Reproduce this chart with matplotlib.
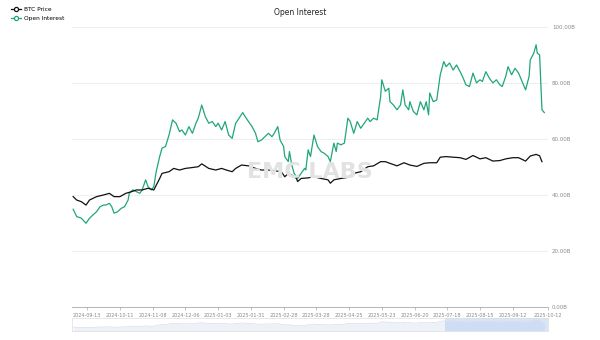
import matplotlib
matplotlib.use("Agg")
import matplotlib.pyplot as plt
import matplotlib.dates as mdates
import numpy as np
import pandas as pd
from matplotlib.lines import Line2D

start_date = "2024-08-31"

oi_days = [1, 4, 8, 12, 15, 18, 21, 24, 27, 29, 32, 34, 36, 39, 42, 45, 48, 49, 52, 55,
           58, 60, 63, 65, 68, 70, 72, 75, 77, 80, 83, 86, 89, 92, 94, 97, 100, 103, 106, 108,
           111, 114, 117, 120, 123, 125, 128, 131, 134, 137, 140, 142, 146, 149, 152, 154, 157, 159, 162, 165,
           168, 171, 173, 176, 178, 181, 182, 185, 186, 188, 190, 193, 196, 199, 200, 202, 204, 207, 210, 213,
           216, 219, 221, 224, 226, 227, 230, 233, 236, 238, 241, 244, 247, 250, 253, 255, 258, 261, 264, 265,
           268, 271, 272, 275, 278, 281, 283, 285, 288, 289, 292, 295, 298, 301, 303, 305, 306, 309, 312, 315,
           318, 320, 323, 326, 329, 332, 334, 337, 340, 343, 346, 349, 351, 354, 357, 360, 363, 366, 368, 371,
           373, 376, 379, 382, 385, 388, 391, 392, 395, 397, 398, 400, 402, 404]
oi_values = [34.9, 32.3, 31.7, 29.9, 31.7, 32.9, 34.0, 35.8, 36.4, 36.4, 37.0, 35.8, 33.5, 34.0, 35.2, 35.8, 38.2, 40.6, 41.8, 41.2,
             40.6, 41.8, 45.4, 43.0, 41.8, 43.0, 48.3, 53.7, 56.7, 57.3, 61.4, 66.8, 65.6, 62.6, 63.2, 61.4, 64.4, 62.0, 65.6, 67.4,
             72.1, 68.0, 65.6, 66.2, 64.4, 65.6, 63.2, 66.2, 61.4, 60.2, 65.6, 66.8, 69.4, 67.4, 65.6, 64.4, 62.0, 59.0, 59.6, 60.8,
             62.0, 60.8, 62.0, 64.4, 59.6, 57.3, 53.7, 51.9, 55.5, 50.7, 47.7, 45.9, 47.7, 49.5, 48.9, 56.1, 53.7, 61.4, 57.3, 55.5,
             54.8, 53.7, 51.9, 58.5, 55.5, 58.5, 57.9, 58.5, 67.4, 66.2, 62.0, 66.2, 63.8, 65.6, 67.4, 66.2, 67.4, 66.8, 75.1, 81.1,
             77.0, 78.1, 73.3, 72.1, 70.4, 72.1, 77.5, 72.1, 70.4, 73.3, 69.8, 68.6, 73.3, 70.4, 73.3, 68.6, 76.4, 73.3, 73.9, 82.9,
             87.6, 85.8, 87.1, 84.6, 86.4, 84.0, 82.3, 79.3, 78.7, 83.5, 80.0, 81.1, 80.5, 84.0, 81.7, 80.0, 81.1, 79.3, 78.7, 82.3,
             85.8, 82.9, 85.2, 83.5, 80.5, 77.5, 82.3, 88.2, 90.6, 93.6, 90.6, 90.0, 70.4, 69.4]

btc_days = [1, 4, 8, 12, 15, 21, 27, 32, 36, 41, 46, 51, 55, 60, 65, 70, 75, 77, 83, 87,
            92, 97, 103, 108, 111, 117, 123, 128, 132, 137, 140, 145, 151, 157, 162, 168, 173, 179, 182, 185,
            188, 192, 193, 196, 202, 207, 213, 219, 221, 224, 230, 236, 241, 247, 253, 258, 264, 268, 272, 278,
            284, 289, 295, 301, 306, 312, 315, 320, 326, 332, 337, 343, 349, 354, 360, 366, 371, 377, 382, 388,
            392, 397, 400, 402]
btc_price_k = [65.4, 60.8, 58.5, 53.9, 60.8, 65.4, 67.7, 69.9, 65.4, 65.4, 69.9, 72.2, 74.5, 74.5, 76.8, 74.5, 90.2, 97.1, 99.4, 103.9,
               101.7, 103.9, 105.1, 106.2, 110.1, 103.9, 101.7, 103.9, 101.7, 99.4, 103.9, 108.5, 107.4, 103.9, 101.7, 101.7, 100.9, 99.4, 92.5, 97.1,
               94.8, 90.2, 86.0, 90.2, 91.0, 92.5, 90.2, 88.3, 83.7, 88.3, 90.2, 91.7, 97.1, 99.4, 106.2, 107.4, 113.1, 113.1, 110.8, 107.4,
               111.6, 108.5, 106.6, 110.8, 111.6, 111.6, 119.2, 120.0, 119.2, 118.5, 116.2, 121.5, 116.9, 118.5, 113.9, 114.6, 116.9, 118.5, 118.5, 113.9,
               120.8, 123.0, 121.1, 113.1]

y_ticks = [0, 20, 40, 60, 80, 100]
y_tick_labels = ["0.00B", "20.00B", "40.00B", "60.00B", "80.00B", "100.00B"]
x_tick_dates = ["2024-09-13", "2024-10-11", "2024-11-08", "2024-12-06", "2025-01-03", "2025-01-31",
                "2025-02-28", "2025-03-28", "2025-04-25", "2025-05-23", "2025-06-20", "2025-07-18",
                "2025-08-15", "2025-09-12", "2025-10-12"]

t0 = pd.Timestamp(start_date)
oi_dates = [t0 + pd.Timedelta(days=d) for d in oi_days]
btc_dates = [t0 + pd.Timedelta(days=d) for d in btc_days]
tick_dates = [pd.Timestamp(s) for s in x_tick_dates]

GREEN = "#1fa67a"
GRAY = "#8a8a8a"
GRID = "#eeeeee"

fig = plt.figure(figsize=(6, 3.4), dpi=100)
ax = fig.add_axes([0.12, 0.097, 0.793, 0.824])
ax.set_facecolor("none")

xmin = t0
xmax = pd.Timestamp("2025-10-12")
ax.set_xlim(xmin, xmax)
ax.set_ylim(0, 100)

ax.plot(oi_dates, oi_values, color=GREEN, lw=0.9, zorder=3)

ax2 = ax.twinx()
# hidden axis for BTC price (thousands USD)
ax2.set_ylim(-85.1, 296.9)
ax2.plot(btc_dates, btc_price_k, color="#111111", lw=0.9, zorder=3)
ax2.set_yticks([])
for s in ax2.spines.values():
    s.set_visible(False)

ax.yaxis.tick_right()
ax.set_yticks(y_ticks)
ax.set_yticklabels(y_tick_labels, fontsize=4.0, color=GRAY)
ax.tick_params(axis="y", length=0, pad=3)
ax.grid(axis="y", color=GRID, lw=0.8)
ax.set_axisbelow(True)

ax.set_xticks(tick_dates)
ax.set_xticklabels(x_tick_dates, fontsize=3.5, color=GRAY)
ax.tick_params(axis="x", length=2.5, width=0.5, color="#aaaaaa", pad=1.5)
for name, s in ax.spines.items():
    s.set_visible(name == "bottom")
ax.spines["bottom"].set_color("#aaaaaa")
ax.spines["bottom"].set_linewidth(0.6)

fig.text(0.516, 0.494, "EMC LABS", fontsize=16, color="#e2e2e2", ha="center", va="center",
         fontweight="bold", zorder=0)

fig.text(0.5, 0.963, "Open Interest", fontsize=5.5, color="#222222", ha="center", va="center")

# legend
handles = [Line2D([0], [0], color="#111111", lw=0.9, marker="o", markersize=3, markerfacecolor="white", markeredgewidth=0.9),
           Line2D([0], [0], color=GREEN, lw=0.9, marker="o", markersize=3, markerfacecolor="white", markeredgewidth=0.9)]
fig.legend(handles, ["BTC Price", "Open Interest"], loc="upper left", bbox_to_anchor=(0.01, 0.995),
           frameon=False, fontsize=4.2, handlelength=1.6, handletextpad=0.5, labelspacing=0.6)

# data zoom slider
axs = fig.add_axes([0.12, 0.026, 0.793, 0.038])
axs.set_xlim(xmin, xmax)
axs.set_ylim(0, 110)
axs.fill_between(oi_dates, oi_values, color="#eef2f8", lw=0)
axs.plot(oi_dates, oi_values, color="#d5deec", lw=0.5)
axs.axvspan(pd.Timestamp("2025-07-16"), xmax, color="#a9c4ee", alpha=0.45, lw=0)
axs.set_xticks([])
axs.set_yticks([])
for s in axs.spines.values():
    s.set_color("#dddddd")
    s.set_linewidth(0.5)

fig.savefig("out.png", dpi=100, facecolor="white")
